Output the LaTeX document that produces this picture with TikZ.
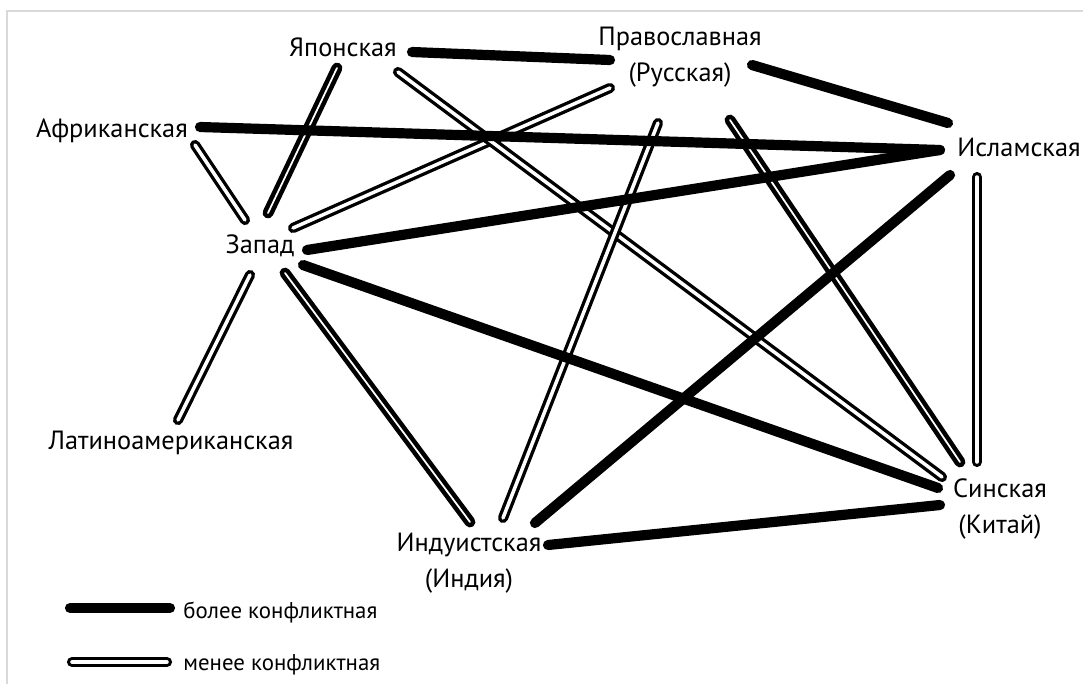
\documentclass[tikz,border=0pt]{standalone}
\usepackage{fontspec}
\setmainfont{PT Sans}
\usepackage{tikz}
\usetikzlibrary{positioning}
\tikzstyle{civ} = [font=\fontsize{15}{20.5}\selectfont, align=center,
                   inner sep=0pt]
\tikzstyle{legtext} = [font=\fontsize{13}{15}\selectfont, anchor=west,
                       inner sep=0pt]
\tikzstyle{more} = [draw, line width=5.8pt, line cap=round]
\tikzstyle{less} = [draw, line width=1.9pt, double=white,
                    double distance=2pt, line cap=round]
\tikzstyle{lessbold} = [draw, line width=2.6pt, double=white,
                        double distance=1pt, line cap=round]
\tikzstyle{frame} = [draw=black!15, line width=1.2pt]

\begin{document}
\begin{tikzpicture}[x=0.02cm, y=-0.02cm]
  \useasboundingbox (0,0) rectangle (1083,684);
  \draw[frame] (1083,11) -- (7,11) -- (7,684);
  % Place nodes
  \node[civ] (jap) at (343,47) {Японская};
  \node[civ] (pra) at (680,57) {Православная\\(Русская)};
  \node[civ] (afr) at (112,131) {Африканская};
  \node[civ] (isl) at (1019,147) {Исламская};
  \node[civ] (zap) at (260,246) {Запад};
  \node[civ] (lat) at (171,443) {Латиноамериканская};
  \node[civ] (ind) at (469,563) {Индуистская\\(Индия)};
  \node[civ] (sin) at (1000,509) {Синская\\(Китай)};
  % Less conflict
  \path[less] ([shift={(83,14)}]afr.center) -- ([shift={(-15,-26)}]zap.center);
  \path[lessbold] ([shift={(-6,21)}]jap.center) -- ([shift={(8,-33)}]zap.center);
  \path[less] ([shift={(-70,31)}]pra.center) -- ([shift={(33,-18)}]zap.center);
  \path[less] ([shift={(55,25)}]jap.center) -- ([shift={(-58,-32)}]sin.center);
  \path[less] ([shift={(-22,66)}]pra.center) -- ([shift={(34,-45)}]ind.center);
  \path[lessbold] ([shift={(50,63)}]pra.center) -- ([shift={(-40,-47)}]sin.center);
  \path[lessbold] ([shift={(25,27)}]zap.center) -- ([shift={(1,-41)}]ind.center);
  \path[less] ([shift={(-10,29)}]zap.center) -- ([shift={(7,-23)}]lat.center);
  \path[less] ([shift={(-42,30)}]isl.center) -- ([shift={(-23,-47)}]sin.center);
  % More conflict
  \path[more] ([shift={(69,5)}]jap.center) -- ([shift={(-70,3)}]pra.center);
  \path[more] ([shift={(72,8)}]pra.center) -- ([shift={(-71,-24)}]isl.center);
  \path[more] ([shift={(88,-4)}]afr.center) -- ([shift={(-79,3)}]isl.center);
  \path[more] ([shift={(47,4)}]zap.center) -- ([shift={(-79,3)}]isl.center);
  \path[more] ([shift={(43,19)}]zap.center) -- ([shift={(-62,-21)}]sin.center);
  \path[more] ([shift={(66,-40)}]ind.center) -- ([shift={(-69,28)}]isl.center);
  \path[more] ([shift={(79,-18)}]ind.center) -- ([shift={(-60,-4)}]sin.center);
  % Legend
  \node[legtext] (lmore) at (183,612) {более конфликтная};
  \node[legtext] (lless) at (183,665) {менее конфликтная};
  \path[more] ([shift={(-113,-4)}]lmore.west) -- ([shift={(-13,-4)}]lmore.west);
  \path[less] ([shift={(-111,-3)}]lless.west) -- ([shift={(-16,-3)}]lless.west);
\end{tikzpicture}
\end{document}
